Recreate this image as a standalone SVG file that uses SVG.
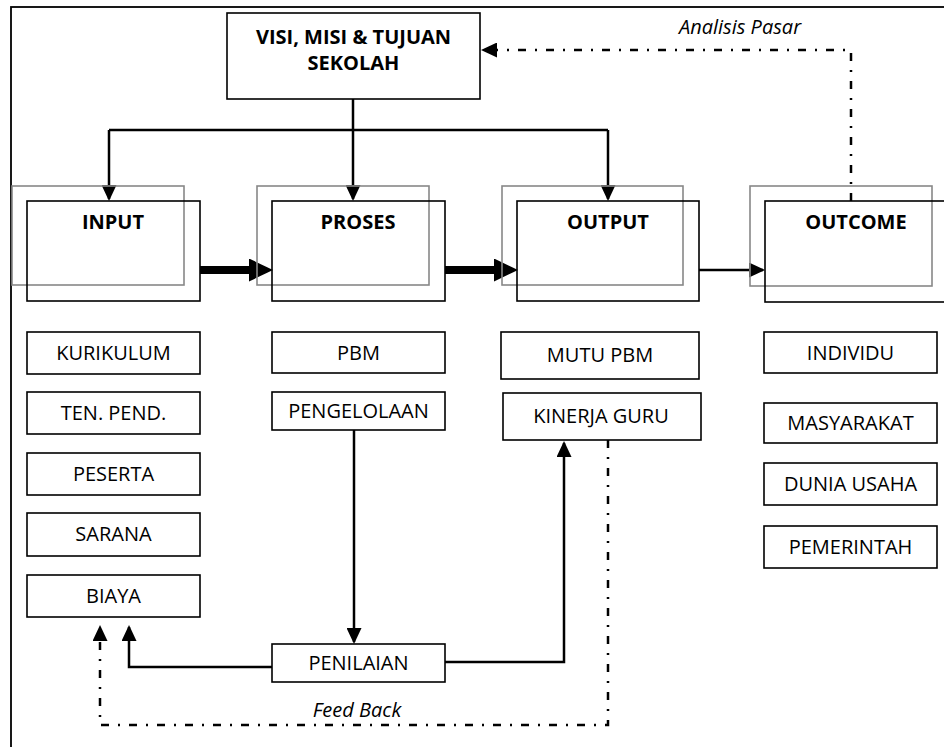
<svg xmlns="http://www.w3.org/2000/svg" width="944" height="747" viewBox="0 0 944 747">
<style>
  .frame{fill:none;stroke:#000;stroke-width:1.8}
  .box{fill:none;stroke:#000;stroke-width:1.6}
  .shadow{fill:none;stroke:#888;stroke-width:1.6}
  .t{font-family:"Open Sans","Noto Sans",sans-serif;font-size:20px;fill:#000;text-anchor:middle}
  .b{font-weight:bold}
  .i{font-style:italic}
  .c{fill:none;stroke:#000;stroke-width:2.5}
  .thick{fill:none;stroke:#000;stroke-width:8}
  .dd{fill:none;stroke:#000;stroke-width:2.5;stroke-dasharray:8 9 2 9}
</style>
<defs>
  <marker id="ah" markerUnits="userSpaceOnUse" markerWidth="16" markerHeight="15" refX="14" refY="7.5" orient="auto">
    <path d="M0,0 L16,7.5 L0,15 z" fill="#000"/>
  </marker>
  <marker id="ahb" markerUnits="userSpaceOnUse" markerWidth="24" markerHeight="23" refX="1" refY="11.5" orient="auto">
    <path d="M0,0 L24,11.5 L0,23 z" fill="#000"/>
  </marker>
</defs>
<rect width="944" height="747" fill="#fff"/>
<rect class="frame" x="11" y="7" width="960" height="780"/>

<g id="connectors">
  <path class="c" d="M353,99 V199" marker-end="url(#ah)"/>
  <path class="c" d="M109,130 H608"/>
  <path class="c" d="M109,130 V199" marker-end="url(#ah)"/>
  <path class="c" d="M608,130 V199" marker-end="url(#ah)"/>
  <path class="thick" d="M200,270 H250" marker-end="url(#ahb)"/>
  <path class="thick" d="M445,270 H495" marker-end="url(#ahb)"/>
  <path class="c" d="M699,270 H763" marker-end="url(#ah)"/>
  <path class="dd" d="M851,201 V50 H483" marker-end="url(#ah)"/>
  <path class="c" d="M354,430 V642" marker-end="url(#ah)"/>
  <path class="c" d="M445,662 H564 V443" marker-end="url(#ah)"/>
  <path class="c" d="M272,667 H129 V627" marker-end="url(#ah)"/>
  <path class="dd" d="M608,440 V725 H100 V627" marker-end="url(#ah)"/>
</g>

<g id="visi">
  <rect class="box" x="227" y="13" width="253" height="86"/>
  <text class="t b" x="353.5" y="44">VISI, MISI &amp; TUJUAN</text>
  <text class="t b" x="353.5" y="70">SEKOLAH</text>
</g>
<g id="analisis-label"><text class="t i" x="740" y="34">Analisis Pasar</text></g>

<g id="input">
  <rect class="shadow" x="12" y="186" width="172" height="99"/>
  <rect class="box" x="27" y="201" width="173" height="100"/>
  <text class="t b" x="113" y="229">INPUT</text>
</g>
<g id="proses">
  <rect class="shadow" x="257" y="186" width="172" height="99"/>
  <rect class="box" x="272" y="201" width="173" height="100"/>
  <text class="t b" x="358" y="229">PROSES</text>
</g>
<g id="output">
  <rect class="shadow" x="502" y="186" width="181" height="99"/>
  <rect class="box" x="517" y="201" width="182" height="100"/>
  <text class="t b" x="608" y="229">OUTPUT</text>
</g>
<g id="outcome">
  <rect class="shadow" x="750" y="186" width="182" height="100"/>
  <rect class="box" x="765" y="201" width="200" height="101"/>
  <text class="t b" x="856" y="229">OUTCOME</text>
</g>

<g id="kurikulum"><rect class="box" x="27" y="332" width="173" height="42"/><text class="t" x="113.5" y="360">KURIKULUM</text></g>
<g id="ten-pend"><rect class="box" x="27" y="392" width="173" height="42"/><text class="t" x="113.5" y="420">TEN. PEND.</text></g>
<g id="peserta"><rect class="box" x="27" y="453" width="173" height="42"/><text class="t" x="113.5" y="481">PESERTA</text></g>
<g id="sarana"><rect class="box" x="27" y="513" width="173" height="43"/><text class="t" x="113.5" y="541">SARANA</text></g>
<g id="biaya"><rect class="box" x="27" y="575" width="173" height="42"/><text class="t" x="113.5" y="603">BIAYA</text></g>

<g id="pbm"><rect class="box" x="272" y="332" width="173" height="41"/><text class="t" x="358.5" y="360">PBM</text></g>
<g id="pengelolaan"><rect class="box" x="272" y="392" width="173" height="38"/><text class="t" x="358.5" y="418">PENGELOLAAN</text></g>
<g id="penilaian"><rect class="box" x="272" y="644" width="173" height="38"/><text class="t" x="358.5" y="670">PENILAIAN</text></g>

<g id="mutu-pbm"><rect class="box" x="501" y="332" width="198" height="47"/><text class="t" x="600" y="362">MUTU PBM</text></g>
<g id="kinerja-guru"><rect class="box" x="503" y="393" width="198" height="47"/><text class="t" x="601" y="423">KINERJA GURU</text></g>

<g id="individu"><rect class="box" x="764" y="332" width="173" height="41"/><text class="t" x="850.5" y="360">INDIVIDU</text></g>
<g id="masyarakat"><rect class="box" x="764" y="403" width="173" height="40"/><text class="t" x="850.5" y="430">MASYARAKAT</text></g>
<g id="dunia-usaha"><rect class="box" x="764" y="463" width="173" height="42"/><text class="t" x="850.5" y="491">DUNIA USAHA</text></g>
<g id="pemerintah"><rect class="box" x="764" y="526" width="173" height="42"/><text class="t" x="850.5" y="554">PEMERINTAH</text></g>

<g id="feedback-label"><text class="t i" x="357" y="717">Feed Back</text></g>
</svg>
